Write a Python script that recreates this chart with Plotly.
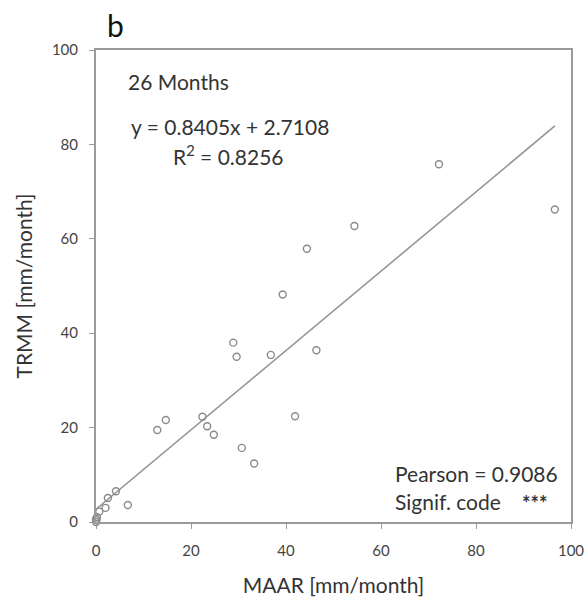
import plotly.graph_objects as go

maar = [28.9, 29.6, 36.8, 46.4, 12.9, 14.7, 22.4, 23.4, 24.8, 41.9, 30.7, 33.3,
        4.2, 2.5, 2.0, 6.7, 0.7, 72.2, 96.6, 54.4, 44.4, 39.3, 0.0, 0.1, 0.2, 0.0]
trmm = [38.0, 35.0, 35.4, 36.4, 19.5, 21.6, 22.3, 20.3, 18.5, 22.4, 15.7, 12.4,
        6.5, 5.1, 3.0, 3.6, 2.2, 75.8, 66.2, 62.7, 57.9, 48.2, 0.0, 0.4, 1.0, 0.6]
slope = 0.8405
intercept = 2.7108
fit_x = [0, max(maar)]
fit_y = [intercept + slope * v for v in fit_x]

font = "Lato"
txt = "#333333"
gray = "#9a9a9a"

fig = go.Figure()
fig.add_trace(go.Scatter(x=fit_x, y=fit_y, mode="lines",
                         line=dict(color="#959595", width=1.6), showlegend=False))
fig.add_trace(go.Scatter(x=maar, y=trmm, mode="markers",
                         marker=dict(symbol="circle-open", size=7, color="#8a8a8a",
                                     line=dict(color="#8a8a8a", width=1.4)),
                         showlegend=False, cliponaxis=False))

axis_common = dict(showgrid=False, zeroline=False, showline=True, linecolor=gray,
                   linewidth=2, mirror=True, ticks="outside", ticklen=5, tickwidth=1,
                   tickcolor=gray, tickfont=dict(family=font, size=15, color="#444444"),
                   dtick=20, automargin=False)
fig.update_xaxes(range=[0, 100], ticklabelstandoff=9,
                 title=dict(text="MAAR [mm/month]",
                            font=dict(family=font, size=21, color=txt), standoff=20),
                 **axis_common)
fig.update_yaxes(range=[0, 100], ticklabelstandoff=8,
                 title=dict(text="TRMM [mm/month]",
                            font=dict(family=font, size=21, color=txt), standoff=14),
                 **axis_common)

ann = [
    dict(x=0.063, y=0.934, text="26 Months", xanchor="left", size=21),
    dict(x=0.069, y=0.837, text="y = 0.8405x + 2.7108", xanchor="left", size=21),
    dict(x=0.278, y=0.778, text="R<sup>2</sup> = 0.8256", xanchor="center", size=21),
    dict(x=0.626, y=0.102, text="Pearson = 0.9086", xanchor="left", size=21),
    dict(x=0.626, y=0.044, text="Signif. code", xanchor="left", size=21),
    dict(x=0.924, y=0.040, text="<b>***</b>", xanchor="center", size=20),
]
for a in ann:
    fig.add_annotation(xref="paper", yref="paper", x=a["x"], y=a["y"], text=a["text"],
                       xanchor=a["xanchor"], yanchor="middle", showarrow=False,
                       font=dict(family=font, size=a["size"], color=txt))
fig.add_annotation(xref="paper", yref="paper", x=0.041, y=1.052, text="b",
                   xanchor="center", yanchor="middle", showarrow=False,
                   font=dict(family=font, size=30, color="#111111"))

fig.update_layout(width=585, height=604, margin=dict(l=96, r=14, t=50, b=82),
                  plot_bgcolor="white", paper_bgcolor="white")
fig.write_html("out.html")
